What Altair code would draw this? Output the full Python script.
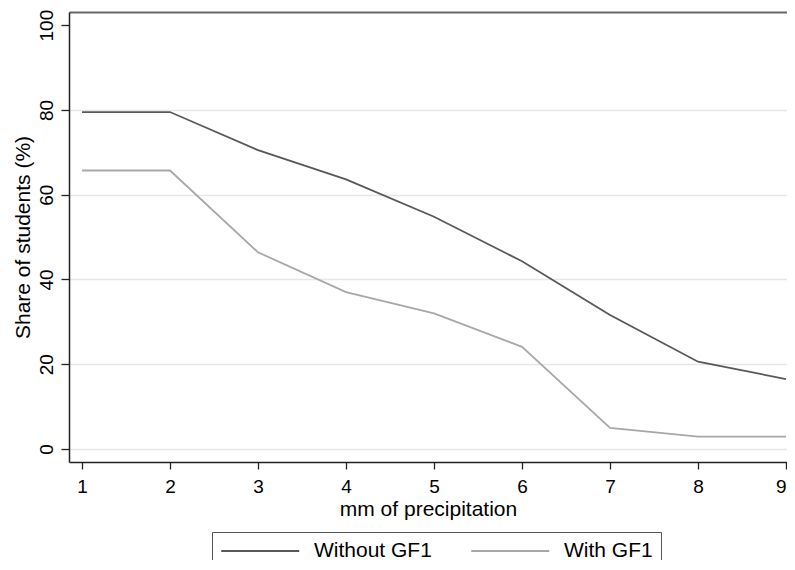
import altair as alt
import pandas as pd

mm = [1, 2, 3, 4, 5, 6, 7, 8, 9]
without_gf1 = [79.5, 79.5, 70.5, 63.6, 54.8, 44.3, 31.6, 20.6, 16.5]
with_gf1 = [65.7, 65.7, 46.4, 37.0, 32.0, 24.1, 5.0, 2.9, 2.9]
series = ["Without GF1", "With GF1"]
colors = ["#585858", "#a8a8a8"]

df = pd.DataFrame({
    "mm": mm * 2,
    "share": without_gf1 + with_gf1,
    "group": [series[0]] * len(mm) + [series[1]] * len(mm),
})

FONT = "Liberation Sans"

x_scale = alt.Scale(domain=[0.852, 9.011], nice=False, zero=False)
y_scale = alt.Scale(domain=[-3.07, 103.1], nice=False, zero=False)

base = alt.Chart(df)

lines = base.mark_line(strokeWidth=1.8).encode(
    x=alt.X("mm:Q", scale=x_scale,
            axis=alt.Axis(values=mm, title="mm of precipitation", grid=False,
                          labelFontSize=19, titleFontSize=21, labelFont=FONT, titleFont=FONT,
                          labelColor="#000", titleColor="#000", titleFontWeight="normal",
                          domainColor="#222", domainWidth=1.5, tickColor="#222", tickWidth=1.3,
                          tickSize=7, labelPadding=8, titlePadding=2, format="d")),
    y=alt.Y("share:Q", scale=y_scale,
            axis=alt.Axis(values=[0, 20, 40, 60, 80, 100], title="Share of students (%)",
                          labelAngle=-90, labelAlign="center", labelBaseline="bottom",
                          labelFontSize=19, titleFontSize=21, labelFont=FONT, titleFont=FONT,
                          labelColor="#000", titleColor="#000", titleFontWeight="normal",
                          domainColor="#222", domainWidth=1.5, tickColor="#222", tickWidth=1.3,
                          tickSize=8, labelPadding=5, titlePadding=4, format="d",
                          grid=True,
                          gridColor={"condition": {"test": "datum.value === 100", "value": "transparent"},
                                     "value": "#e6e6e6"},
                          gridWidth=1.5)),
    color=alt.Color("group:N", scale=alt.Scale(domain=series, range=colors),
                    sort=series,
                    legend=alt.Legend(title=None, orient="none", legendX=143, legendY=520,
                                      direction="horizontal", strokeColor="#555",
                                      padding=8, symbolType="M-1,0H7", symbolSize=380,
                                      symbolStrokeWidth=1.8, labelFontSize=21, labelFont=FONT,
                                      labelColor="#000", labelOffset=72, columnPadding=35)),
)

top_border = base.mark_line(opacity=0).encode(
    x=alt.X("mm:Q", scale=x_scale,
            axis=alt.Axis(orient="top", labels=False, ticks=False, title=None, grid=False,
                          domainColor="#666", domainWidth=2)),
    y=alt.Y("share:Q", scale=y_scale),
)

chart = alt.layer(lines, top_border).resolve_axis(x="independent").properties(
    width=718, height=450,
    autosize="none",
    padding={"left": 61, "top": 4, "right": 0, "bottom": 98},
    background="white",
).configure_view(stroke=None)

chart.save("out.html", embed_options={"renderer": "svg", "actions": False})
